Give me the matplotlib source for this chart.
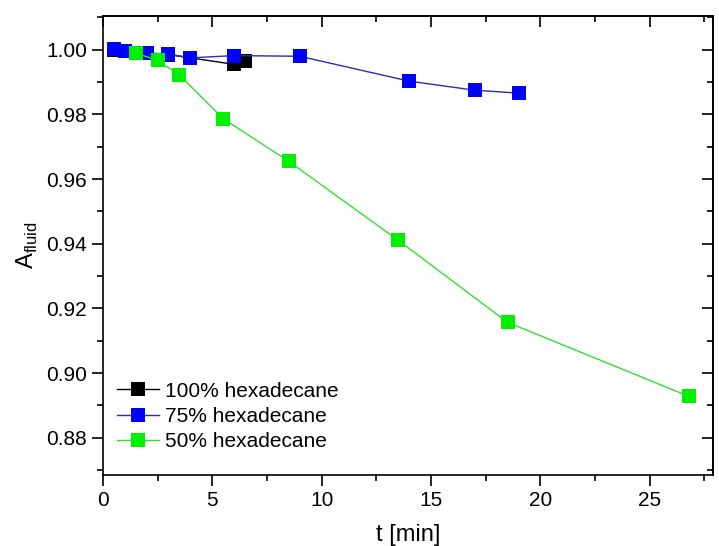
import matplotlib
matplotlib.use("Agg")
import matplotlib.pyplot as plt
from matplotlib.ticker import MultipleLocator

plt.rcParams['font.family'] = ['Liberation Sans', 'DejaVu Sans']

# data
t_100 = [0.5, 1, 2, 3, 4, 6, 6.5]
a_100 = [1.0000, 0.9997, 0.9990, 0.9985, 0.9975, 0.9955, 0.9965]

t_75 = [0.5, 1, 2, 3, 4, 6, 9, 14, 17, 19]
a_75 = [1.0003, 0.9997, 0.9990, 0.9987, 0.9975, 0.9982, 0.9980, 0.9903, 0.9875, 0.9866]

t_50 = [1.5, 2.5, 3.5, 5.5, 8.5, 13.5, 18.5, 26.8]
a_50 = [0.9990, 0.9967, 0.9922, 0.9787, 0.9655, 0.9411, 0.9157, 0.8928]

labels = ['100% hexadecane', '75% hexadecane', '50% hexadecane']

fig = plt.figure(figsize=(7.19, 5.46), dpi=100)
ax = fig.add_axes([0.143, 0.13, 0.849, 0.841])

ax.plot(t_100, a_100, '-s', color='black', lw=1.0, ms=9.5, mew=0, label=labels[0])
ax.plot(t_75, a_75, '-s', color='#2a2ab8', mfc='#0000ff', lw=1.0, ms=9.5, mew=0,
        label=labels[1])
ax.plot(t_50, a_50, '-s', color='#33dd33', mfc='#00f000', lw=1.0, ms=9.5, mew=0,
        label=labels[2])

ax.set_xlim(0, 27.9)
ax.set_ylim(0.8685, 1.0105)
ax.xaxis.set_major_locator(MultipleLocator(5))
ax.xaxis.set_minor_locator(MultipleLocator(2.5))
ax.yaxis.set_major_locator(MultipleLocator(0.02))
ax.yaxis.set_minor_locator(MultipleLocator(0.01))
ax.yaxis.set_major_formatter(plt.FormatStrFormatter('%.2f'))

ax.tick_params(which='both', direction='out', labelsize=15, width=1.2,
               top=False, right=False)
ax.tick_params(which='major', length=8)
ax.tick_params(which='minor', length=4)

# mirrored inward ticks on top and right
sec_x = ax.secondary_xaxis('top')
sec_x.xaxis.set_major_locator(MultipleLocator(5))
sec_x.xaxis.set_minor_locator(MultipleLocator(2.5))
sec_x.tick_params(which='both', direction='in', labeltop=False, width=1.2)
sec_x.tick_params(which='major', length=8)
sec_x.tick_params(which='minor', length=4)
sec_y = ax.secondary_yaxis('right')
sec_y.yaxis.set_major_locator(MultipleLocator(0.02))
sec_y.yaxis.set_minor_locator(MultipleLocator(0.01))
sec_y.tick_params(which='both', direction='in', labelright=False, width=1.2)
sec_y.tick_params(which='major', length=8)
sec_y.tick_params(which='minor', length=4)

for s in ax.spines.values():
    s.set_linewidth(1.2)
sec_x.spines['top'].set_linewidth(1.2)
sec_y.spines['right'].set_linewidth(1.2)

ax.set_xlabel('t [min]', fontsize=17, labelpad=10)
ax.set_ylabel(r'A$_{\mathregular{fluid}}$', fontsize=17, labelpad=4)

ax.legend(loc='lower left', frameon=False, fontsize=15, handlelength=2.0,
          handletextpad=0.3, labelspacing=0.3, borderaxespad=0.3,
          bbox_to_anchor=(0.0, 0.02))

fig.savefig('out.png', dpi=100)
